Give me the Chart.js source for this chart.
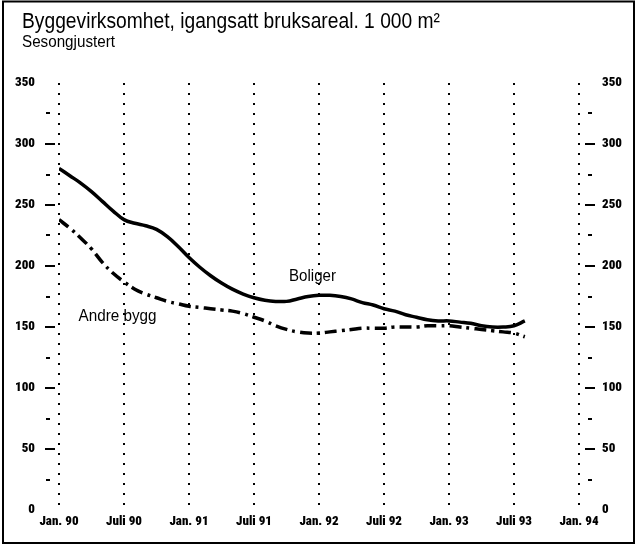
<!DOCTYPE html>
<html>
<head>
<meta charset="utf-8">
<script src="https://cdn.jsdelivr.net/npm/chart.js@4.4.1/dist/chart.umd.min.js"></script>
<style>
  html, body { margin: 0; padding: 0; background: #fff; }
  #wrap { width: 636px; height: 546px; position: relative; }
</style>
</head>
<body>
<div id="wrap"><canvas id="myChart" width="636" height="546"></canvas></div>
<script>
// months since Jan. 90, values in 1 000 m2
const tickLabels = ['Jan. 90', 'Juli 90', 'Jan. 91', 'Juli 91', 'Jan. 92', 'Juli 92', 'Jan. 93', 'Juli 93', 'Jan. 94']
const boliger = [280, 274, 268, 261, 253, 245, 238, 235, 233, 230, 224, 216,
                 207, 199, 192, 186, 181, 177, 174, 172, 171, 171, 173, 175,
                 176, 176, 175, 173, 170, 168, 165, 163, 160, 158, 156, 155,
                 155, 154, 153, 151, 150, 150, 151, 155]
const andreBygg = [238, 231, 223, 214, 203, 194, 187, 181, 177, 174, 171, 169,
                   167, 166, 165, 164, 163, 161, 158, 155, 151, 148, 146, 145,
                   145, 146, 147, 148, 149, 149, 149, 150, 150, 150, 151, 151,
                   151, 150, 149, 148, 147, 146, 145, 142]
const seriesNames = ['Boliger', 'Andre bygg']
// where the series names sit: [month, value]
const namePos = [[23.4, 188], [5.4, 155]]

const ctx = document.getElementById('myChart').getContext('2d')

const toXY = arr => arr.map((v, i) => ({ x: i, y: v }))

// text squeezed to a given width, to get the condensed look
function squeezed(c, text, x, y, font, width) {
    c.font = font
    const w = c.measureText(text).width
    const s = Math.min(1, width / w)
    c.save()
    c.translate(x, y)
    c.scale(s, 1)
    c.textAlign = 'left'
    c.fillText(text, 0, 0)
    c.restore()
}

const decor = {
    id: 'decor',
    afterDraw(chart) {
        const c = chart.ctx
        const ys = chart.scales.y
        const ca = chart.chartArea
        c.save()
        // frame
        c.strokeStyle = '#000'
        c.lineWidth = 2
        c.strokeRect(3, 1.5, 631, 541.5)
        // title
        c.fillStyle = '#000'
        c.textBaseline = 'alphabetic'
        squeezed(c, 'Byggevirksomhet, igangsatt bruksareal. 1 000 m²', 22, 28, '22px "Liberation Sans"', 418)
        squeezed(c, 'Sesongjustert', 22, 47, '16px "Liberation Sans"', 93)
        // small dashes beside the value axes
        c.lineWidth = 2
        for (let v = 25; v <= 325; v += 25) {
            const y = Math.round(ys.getPixelForValue(v))
            const major = v % 50 === 0
            c.beginPath()
            if (major) {
                c.moveTo(ca.left - 14, y); c.lineTo(ca.left - 4, y)
                c.moveTo(ca.right + 6, y); c.lineTo(ca.right + 16, y)
            } else {
                c.moveTo(ca.left - 13, y); c.lineTo(ca.left - 9, y)
                c.moveTo(ca.right + 9, y); c.lineTo(ca.right + 13, y)
            }
            c.stroke()
        }
        // series names
        const wNames = [47, 78]
        seriesNames.forEach((n, i) => {
            const px = chart.scales.x.getPixelForValue(namePos[i][0])
            const py = ys.getPixelForValue(namePos[i][1])
            squeezed(c, n, px - wNames[i] / 2, py, '17px "Liberation Sans"', wNames[i])
        })
        c.restore()
    }
}

// weight string carries the stretch keyword too
const tickFont = { family: 'Roboto', size: 13, weight: 'condensed 900' }

const yAxis = (pos) => ({
    position: pos,
    min: 0,
    max: 350,
    grid: { display: false },
    border: { display: false },
    ticks: {
        stepSize: 50,
        color: '#000',
        font: tickFont,
        padding: pos === 'left' ? 16 : 15
    },
    afterFit(scale) { scale.width = pos === 'left' ? 44 : 57 }
})

const config = {
    type: 'line',
    data: {
        datasets: [{
            label: seriesNames[0],
            data: toXY(boliger),
            borderColor: '#000',
            borderWidth: 3.5,
            pointRadius: 0,
            tension: 0.4,
            fill: false
        }, {
            label: seriesNames[1],
            data: toXY(andreBygg),
            borderColor: '#000',
            borderWidth: 3.5,
            borderDash: [12, 5, 3, 5],
            pointRadius: 0,
            tension: 0.4,
            fill: false
        }]
    },
    options: {
        responsive: false,
        animation: false,
        layout: { padding: { left: 15, right: 0, top: 83, bottom: 6 } },
        plugins: {
            legend: { display: false },
            tooltip: { enabled: false }
        },
        scales: {
            x: {
                type: 'linear',
                min: 0,
                max: 48,
                grid: { color: '#000', lineWidth: 2, drawTicks: false },
                border: { display: false, dash: [2, 8] },
                ticks: {
                    stepSize: 6,
                    color: '#000',
                    font: tickFont,
                    padding: 4,
                    maxRotation: 0,
                    callback: v => tickLabels[v / 6]
                },
                afterFit(scale) { scale.height = 30 }
            },
            y: yAxis('left'),
            y2: yAxis('right')
        }
    },
    plugins: [decor]
}

const myChart = new Chart(ctx, config)
</script>
</body>
</html>
